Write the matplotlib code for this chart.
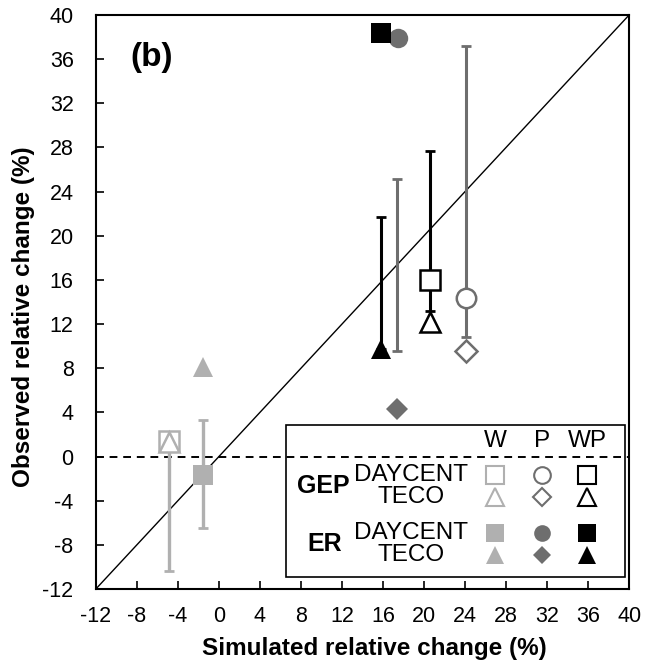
import numpy as np
import matplotlib.pyplot as plt
from matplotlib.patches import Rectangle

plt.rcParams['font.family'] = ['Liberation Sans', 'DejaVu Sans']
plt.rcParams['axes.unicode_minus'] = False

# treatments and their grey levels
treatments = ['W', 'P', 'WP']
colors = {'W': '#b0b0b0', 'P': '#6e6e6e', 'WP': '#000000'}

# rows of the legend: (flux, model)
rows = [('GEP', 'DAYCENT'), ('GEP', 'TECO'), ('ER', 'DAYCENT'), ('ER', 'TECO')]
markers = {
    ('GEP', 'DAYCENT'): {'W': 's', 'P': 'o', 'WP': 's'},
    ('GEP', 'TECO'): {'W': '^', 'P': 'D', 'WP': '^'},
    ('ER', 'DAYCENT'): {'W': 's', 'P': 'o', 'WP': 's'},
    ('ER', 'TECO'): {'W': '^', 'P': 'D', 'WP': '^'},
}

# simulated (x) and observed (y) relative change, %, per treatment W, P, WP
sim = {
    ('GEP', 'DAYCENT'): [-4.9, 24.1, 20.6],
    ('GEP', 'TECO'): [-4.9, 24.1, 20.6],
    ('ER', 'DAYCENT'): [-1.6, 17.5, 15.8],
    ('ER', 'TECO'): [-1.6, 17.4, 15.8],
}
obs = {
    ('GEP', 'DAYCENT'): [1.4, 14.4, 16.0],
    ('GEP', 'TECO'): [1.3, 9.6, 12.2],
    ('ER', 'DAYCENT'): [-1.7, 37.9, 38.4],
    ('ER', 'TECO'): [8.1, 4.3, 9.7],
}

# error bars of observations
err_x = [-4.9, -1.6, 15.8, 17.4, 20.6, 24.1]
err_lo = [-10.4, -6.5, 9.7, 9.6, 13.2, 10.8]
err_hi = [1.4, 3.3, 21.7, 25.1, 27.7, 37.2]
err_trt = ['W', 'W', 'WP', 'P', 'WP', 'P']

ticks = np.arange(-12, 41, 4)

fig = plt.figure(figsize=(6.52, 6.66), dpi=100)
ax = fig.add_axes([0.147, 0.1156, 0.818, 0.862])

ax.plot([-12, 40], [-12, 40], color='black', lw=1.0, zorder=1)
ax.axhline(0, color='black', ls=(0, (4, 3)), lw=1.4, zorder=1)

for x, lo, hi, t in zip(err_x, err_lo, err_hi, err_trt):
    mid = (lo + hi) / 2
    ax.errorbar([x], [mid], yerr=[[mid - lo], [hi - mid]], fmt='none',
                ecolor=colors[t], elinewidth=2.2 if t != 'W' else 2.4,
                capsize=3.5, capthick=2, zorder=2)

for key in rows:
    flux, model = key
    for i, t in enumerate(treatments):
        m = markers[key][t]
        ms = 11 if m == 'D' else (14 if m == 'o' else 15)
        if flux == 'GEP':
            ax.plot(sim[key][i], obs[key][i], marker=m, ls='none', ms=ms,
                    mfc='white', mec=colors[t], mew=1.8, zorder=4)
        else:
            ax.plot(sim[key][i], obs[key][i], marker=m, ls='none', ms=ms,
                    mfc=colors[t], mec=colors[t], mew=0, zorder=3 if m == 'o' else 4)

ax.set_xlim(-12, 40)
ax.set_ylim(-12, 40)
ax.set_xticks(ticks)
ax.set_yticks(ticks)
ax.tick_params(direction='in', length=6, width=1.2, labelsize=15.5)
ax.tick_params(axis='x', pad=12)
ax.tick_params(axis='y', pad=16)
for s in ax.spines.values():
    s.set_linewidth(1.5)

ax.set_xlabel('Simulated relative change (%)', fontsize=17.5, fontweight='bold')
ax.set_ylabel('Observed relative change (%)', fontsize=17.5, fontweight='bold')
ax.xaxis.set_label_coords(0.523, -0.083)
ax.yaxis.set_label_coords(-0.115, 0.474)
ax.text(0.064, 0.925, '(b)', transform=ax.transAxes, fontsize=24, fontweight='bold',
        va='center')

# hand-made legend box in axes fraction
bx0, by0, bw, bh = 0.356, 0.021, 0.636, 0.265
ax.add_patch(Rectangle((bx0, by0), bw, bh, transform=ax.transAxes, fill=False,
                       ec='black', lw=1.2, zorder=5))
col_x = [0.749, 0.837, 0.921]
row_y = [0.199, 0.161, 0.098, 0.059]
head_y = 0.257
for j, t in enumerate(treatments):
    ax.text(col_x[j], head_y, t, transform=ax.transAxes, ha='center', va='center',
            fontsize=17.5)
for r, key in enumerate(rows):
    flux, model = key
    ax.text(0.591, row_y[r], model, transform=ax.transAxes, ha='center', va='center',
            fontsize=17.5)
    for j, t in enumerate(treatments):
        m = markers[key][t]
        ms = 9.5 if m == 'D' else (12 if m == 'o' else 13)
        if flux == 'GEP':
            ax.plot(col_x[j], row_y[r], marker=m, ms=ms, mfc='white', mec=colors[t],
                    mew=1.5, transform=ax.transAxes, zorder=6, clip_on=False)
        else:
            ax.plot(col_x[j], row_y[r], marker=m, ms=ms, mfc=colors[t], mec=colors[t],
                    mew=0, transform=ax.transAxes, zorder=6, clip_on=False)
ax.text(0.426, (row_y[0] + row_y[1]) / 2, 'GEP', transform=ax.transAxes, ha='center',
        va='center', fontsize=18, fontweight='bold')
ax.text(0.43, (row_y[2] + row_y[3]) / 2, 'ER', transform=ax.transAxes, ha='center',
        va='center', fontsize=18, fontweight='bold')

fig.savefig('out.png', dpi=100)
